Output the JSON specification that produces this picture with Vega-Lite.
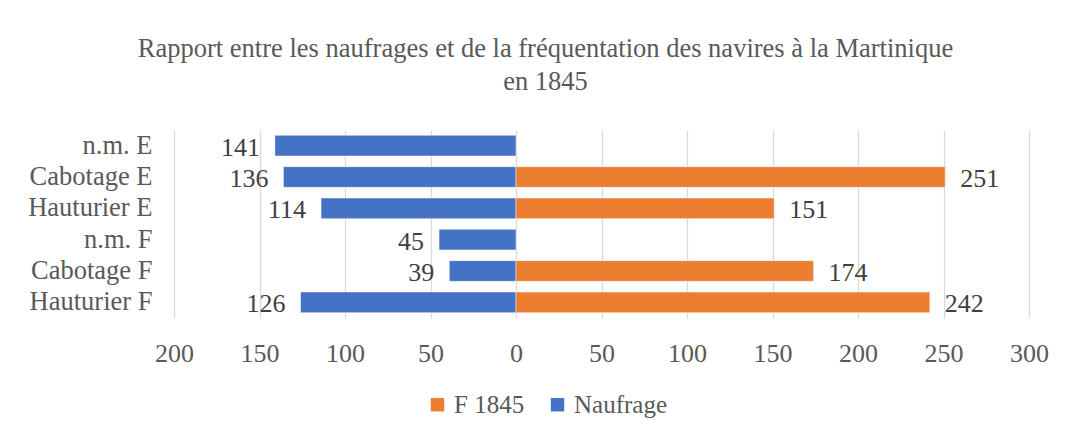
{
  "$schema": "https://vega.github.io/schema/vega-lite/v6.json",
  "autosize": {"type": "none"},
  "width": 855,
  "height": 188,
  "padding": {"left": 174, "top": 130, "right": 36, "bottom": 117},
  "background": "white",
  "title": {
    "text": ["Rapport entre les naufrages et de la fréquentation des navires à la Martinique", "en 1845"],
    "anchor": "middle",
    "frame": "group",
    "dx": -56,
    "offset": 35,
    "font": "Liberation Serif",
    "fontSize": 26.5,
    "fontWeight": "normal",
    "color": "#595959",
    "lineHeight": 33
  },
  "config": {
    "view": {"stroke": null},
    "font": "Liberation Serif"
  },
  "data": {
    "values": [
      {"cat": "n.m. E", "series": "Naufrage", "value": -141},
      {"cat": "Cabotage E", "series": "Naufrage", "value": -136},
      {"cat": "Hauturier E", "series": "Naufrage", "value": -114},
      {"cat": "n.m. F", "series": "Naufrage", "value": -45},
      {"cat": "Cabotage F", "series": "Naufrage", "value": -39},
      {"cat": "Hauturier F", "series": "Naufrage", "value": -126},
      {"cat": "Cabotage E", "series": "F 1845", "value": 251},
      {"cat": "Hauturier E", "series": "F 1845", "value": 151},
      {"cat": "Cabotage F", "series": "F 1845", "value": 174},
      {"cat": "Hauturier F", "series": "F 1845", "value": 242}
    ]
  },
  "encoding": {
    "y": {
      "field": "cat",
      "type": "nominal",
      "sort": ["n.m. E", "Cabotage E", "Hauturier E", "n.m. F", "Cabotage F", "Hauturier F"],
      "scale": {"paddingInner": 0.34, "paddingOuter": 0.17},
      "axis": {
        "title": null,
        "ticks": false,
        "domain": false,
        "labelFont": "Liberation Serif",
        "labelFontSize": 26.5,
        "labelColor": "#595959",
        "labelPadding": 22
      }
    },
    "x": {
      "field": "value",
      "type": "quantitative",
      "stack": null,
      "scale": {"domain": [-200, 300], "nice": false, "zero": false},
      "axis": {
        "title": null,
        "values": [-200, -150, -100, -50, 0, 50, 100, 150, 200, 250, 300],
        "labelExpr": "abs(datum.value)",
        "ticks": false,
        "domain": false,
        "grid": true,
        "gridColor": "#d9d9d9",
        "gridWidth": 1.3,
        "labelFont": "Liberation Serif",
        "labelFontSize": 26,
        "labelColor": "#595959",
        "labelPadding": 22,
        "labelFlush": false
      }
    }
  },
  "layer": [
    {
      "mark": {"type": "bar", "stroke": "#ffffff", "strokeWidth": 0.8, "strokeOpacity": 0.6},
      "encoding": {
        "color": {
          "field": "series",
          "type": "nominal",
          "scale": {"domain": ["F 1845", "Naufrage"], "range": ["#ED7D31", "#4472C4"]},
          "legend": {
            "title": null,
            "orient": "none",
            "direction": "horizontal",
            "legendX": 251,
            "legendY": 262,
            "symbolType": "square",
            "symbolSize": 180,
            "symbolStrokeWidth": 0,
            "labelFont": "Liberation Serif",
            "labelFontSize": 25,
            "labelColor": "#595959",
            "labelOffset": 4,
            "columnPadding": 20
          }
        }
      }
    },
    {
      "transform": [{"filter": "datum.series === 'Naufrage'"}],
      "mark": {"type": "text", "align": "right", "baseline": "middle", "dx": -15, "dy": 2, "font": "Liberation Serif", "fontSize": 26, "color": "#404040", "text": {"expr": "abs(datum.value)"}},
      "encoding": {}
    },
    {
      "transform": [{"filter": "datum.series === 'F 1845'"}],
      "mark": {"type": "text", "align": "left", "baseline": "middle", "dx": 15, "dy": 2, "font": "Liberation Serif", "fontSize": 26, "color": "#404040"},
      "encoding": {"text": {"field": "value", "type": "quantitative", "format": "d"}}
    }
  ]
}
